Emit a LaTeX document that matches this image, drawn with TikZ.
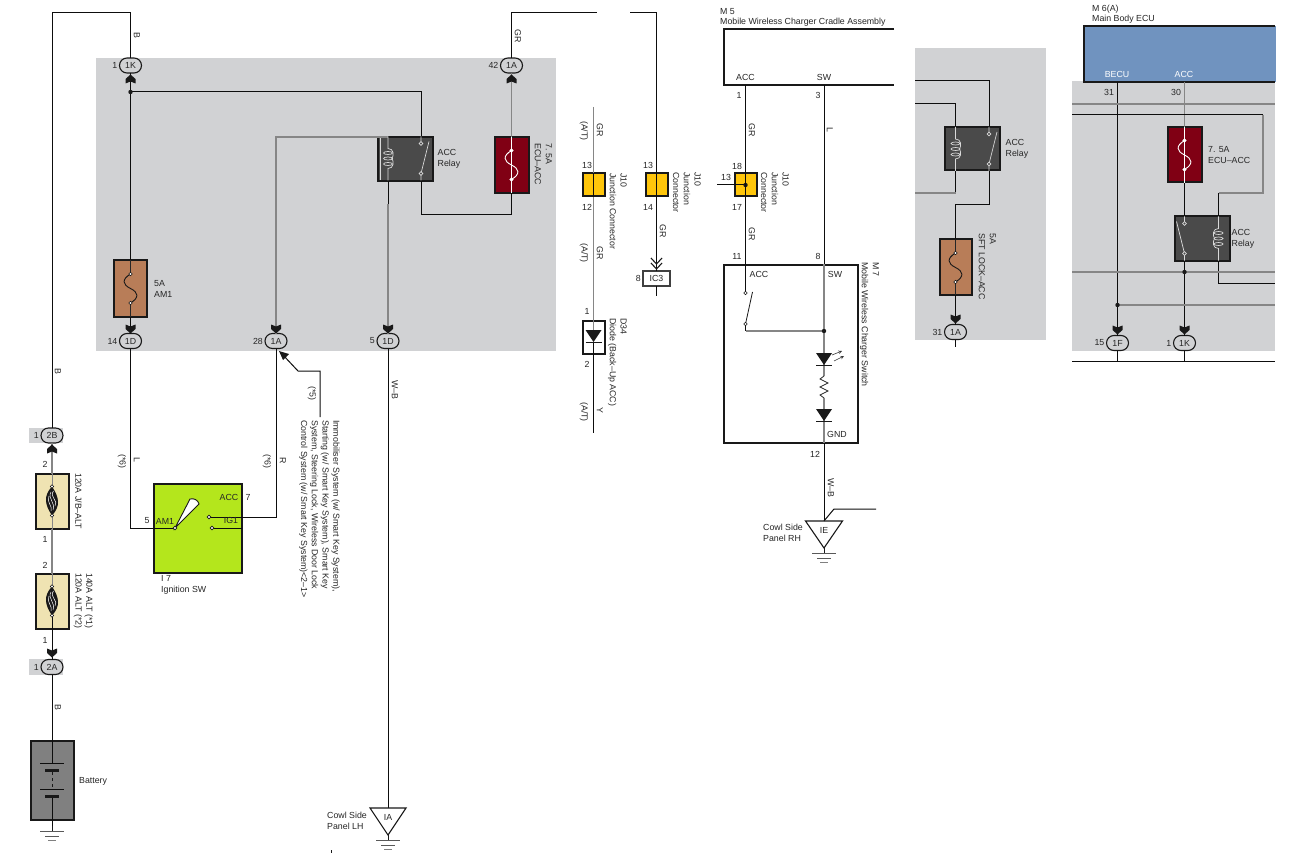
\documentclass[tikz,border=0pt]{standalone}
\usepackage{fontspec}
\setmainfont{Liberation Sans}
\usetikzlibrary{shapes.misc,positioning}
\definecolor{panelgray}{HTML}{D1D2D4}
\definecolor{wiregray}{HTML}{868686}
\definecolor{fusetan}{HTML}{EFE3B2}
\definecolor{fusebrown}{HTML}{B87D58}
\definecolor{fusered}{HTML}{800014}
\definecolor{relaygray}{HTML}{4A4A4A}
\definecolor{ecublue}{HTML}{7093BF}
\definecolor{jyellow}{HTML}{FFC60B}
\definecolor{swgreen}{HTML}{B4E61C}
\tikzset{
  lab/.style={font=\fontsize{8.8}{10.8}\selectfont, inner sep=0pt, text=black!85},
  tag/.style={lab, anchor=west, align=left},
  rotlab/.style={lab, rotate=-90, anchor=west},
  rottag/.style={lab, rotate=-90, anchor=north west, align=left},
  wirek/.style={draw=black!95, line width=1pt},
  wireg/.style={draw=wiregray, line width=1.1pt},
  panel/.style={fill=panelgray},
  conn/.style={rounded rectangle, draw=black!90, line width=1.1pt, minimum width=22pt, minimum height=15pt, inner sep=0pt, outer sep=0pt, fill=panelgray, lab},
  boxbase/.style={rectangle, draw=black!90, line width=2pt, inner sep=0pt, outer sep=0pt, anchor=north west},
  pics/plug/.style={code={\fill[black!90] (0,-4.5) -- (5,0) -- (5,4.5) -- (0,2.5) -- (-5,4.5) -- (-5,0) -- cycle;}},
  pics/fuselink/.style={code={
    \draw[#1, line width=0.9pt] (0,-14.5) .. controls (-9,-9) and (-8,-4) .. (0,0) .. controls (8,4) and (9,9) .. (0,14.5);
    \draw[#1, fill=white, line width=0.5pt] (0,-14.5) circle (1.7) (0,14.5) circle (1.7);}},
  pics/bigfuse/.style={code={
    \fill[black!90] (0,-14.5) .. controls (-9,-5) and (-7,4) .. (0,14.5) .. controls (9,5) and (7,-4) .. (0,-14.5);
    \draw[white, line width=0.5pt] (-1,-9) .. controls (-5,-3) and (4,2) .. (1,9) (1.5,-10) .. controls (-3,-4) and (7,0) .. (3,5) (-3,-5) .. controls (-6,1) and (1,5) .. (-1,10);
    \draw[black!90, fill=white, line width=0.5pt] (0,-14.5) circle (1.7) (0,14.5) circle (1.7);}},
  pics/coilsym/.style={code={
    \draw[white!85!black, line width=0.7pt] (0,-22) -- (0,-10) .. controls (6,-10) and (6,-3) .. (4,0) .. controls (6,3) and (6,10) .. (0,10) -- (0,22);
    \draw[white!85!black, line width=0.7pt] (0,-5.5) ellipse (4.5 and 1.5) (0,0) ellipse (4.5 and 1.5) (0,5.5) ellipse (4.5 and 1.5);}},
  pics/contactsym/.style={code={
    \draw[white!85!black, line width=0.7pt] (0,-22) -- (0,-15) (0,15) -- (0,22) (0,15) -- (8,-17);
    \draw[white!85!black, fill=relaygray, line width=0.7pt] (0,-15) circle (1.8) (0,15) circle (1.8);}},
  pics/groundsym/.style={code={
    \draw[black!90, line width=0.9pt] (0,0) -- (0,5);
    \draw[black!65, line width=0.9pt] (-12,5) -- (12,5) (-7,10) -- (7,10);
    \draw[black!50, line width=0.9pt] (-4,14) -- (4,14);}},
  pics/diodesym/.style={code={
    \fill[black!90] (-8,-6) -- (8,-6) -- (0,6) -- cycle;
    \draw[black!90, line width=0.8pt] (-8,6) -- (8,6);}}
}
\begin{document}
\begin{tikzpicture}[x=1pt, y=-1pt]
  \useasboundingbox (0,0) rectangle (1301,853);
  \fill[white] (0,0) rectangle (1301,853);
  \fill[panel] (96,58) rectangle (556,351);
  \fill[panel] (915,48) rectangle (1046,340);
  \fill[panel] (1072,81) rectangle (1275,351);
  \fill[panel] (29,428) rectangle (63,443);
  \fill[panel] (29,659) rectangle (63,675);

  \node[boxbase, fill=fusebrown, minimum width=33pt, minimum height=57pt] (fuseAM) at (114,260) {};
  \node[boxbase, fill=fusered, minimum width=34pt, minimum height=56pt] (fuseECU) at (494.5,137) {};
  \node[boxbase, fill=relaygray, minimum width=55pt, minimum height=44pt] (relayA) at (377.5,137) {};
  \node[boxbase, fill=fusetan, minimum width=33pt, minimum height=55pt] (fuseJB) at (35.5,473.5) {};
  \node[boxbase, fill=fusetan, minimum width=33pt, minimum height=55pt] (fuseALT) at (35.5,573.5) {};
  \node[boxbase, fill=swgreen, minimum width=88pt, minimum height=89pt] (ignSw) at (153.5,483.5) {};
  \node[boxbase, fill=black!50, minimum width=43pt, minimum height=79pt] (battery) at (30.5,740.5) {};
  \node[boxbase, fill=jyellow, minimum width=22pt, minimum height=23pt] (jctA) at (582.5,173.5) {};
  \node[boxbase, fill=jyellow, minimum width=22pt, minimum height=23pt] (jctB) at (645.5,173.5) {};
  \node[boxbase, fill=jyellow, minimum width=22pt, minimum height=23pt] (jctC) at (734.5,173.5) {};
  \node[boxbase, fill=white, minimum width=22pt, minimum height=33pt] (diodeBox) at (582.5,320.5) {};
  \node[boxbase, draw=black!75, line width=1.3pt, fill=white, minimum width=27pt, minimum height=15pt, lab] (ic3) at (643,271) {IC3};
  \node[boxbase, fill=white, minimum width=134pt, minimum height=178pt] (chgSw) at (723.5,264.5) {};
  \node[boxbase, fill=relaygray, minimum width=55pt, minimum height=43pt] (relayB) at (944.5,127.5) {};
  \node[boxbase, fill=fusebrown, minimum width=32pt, minimum height=55pt] (fuseSFT) at (939.5,239.5) {};
  \node[boxbase, fill=fusered, minimum width=34pt, minimum height=55pt] (fuseECUb) at (1167.5,127.5) {};
  \node[boxbase, fill=relaygray, minimum width=55pt, minimum height=44pt] (relayC) at (1174.5,216.5) {};

  \node[conn] (c1K) at (130.5,65.5) {1K};
  \node[conn] (c1A) at (511.5,65.5) {1A};
  \node[conn] (c1D) at (130.5,341) {1D};
  \node[conn] (c1Ab) at (276,341) {1A};
  \node[conn] (c1Dc) at (388,341) {1D};
  \node[conn] (c2B) at (52,435.5) {2B};
  \node[conn] (c2A) at (52,667) {2A};
  \node[conn] (c1Ad) at (955.5,332) {1A};
  \node[conn] (c1F) at (1117.5,343) {1F};
  \node[conn] (c1Ke) at (1184.5,343) {1K};

  \coordinate (topB) at (130.5,13);
  \coordinate (jctK) at (130.5,92);
  \coordinate (am1Pt) at (175,528);
  \coordinate (accPt) at (209,517);
  \coordinate (ig1Pt) at (212,528);
  \coordinate (relayAc) at (388,158.5);
  \coordinate (relayAs) at (421,158.5);
  \coordinate (topGR) at (597,13);
  \coordinate (topGRb) at (656,13);
  \coordinate (ieTop) at (824,521);
  \coordinate (iaTop) at (388,808);

  \draw[wirek] (c2B.north) |- (topB) -- (c1K.north);
  \draw[wirek] (c1K.south) -- (jctK) -- (fuseAM.north);
  \draw[wirek] (fuseAM.south) -- (c1D.north);
  \draw[wirek] (c1D.south) |- (am1Pt);
  \draw[wirek] (jctK) -| (relayAs |- relayA.north);
  \draw[wirek] (relayAs |- relayA.south) -- (421,215) -| (fuseECU.south);
  \draw[wireg] (fuseECU.north) -- (c1A.south);
  \draw[wirek] (c1A.north) |- (topGR);
  \draw[wirek] (630,13) -- (656.5,13) -- (jctB.north);
  \draw[wirek] (jctB.south) -- (ic3.north);
  \draw[wirek] (ic3.south) -- (656.5,296);
  \draw[wireg] (c1Ab.north) |- (relayAc |- relayA.north);
  \draw[wirek] (relayAc |- relayA.south) -- (388,204);
  \draw[wireg] (388,204) -- (c1Dc.north);
  \draw[wirek] (c1Dc.south) -- (iaTop);
  \draw[wirek] (c1Ab.south) |- (accPt -| 276,506) -| (accPt);
  \draw[wirek] (ig1Pt) -- (ignSw.east |- ig1Pt);
  \draw[wirek] (320,417) -- (320,371) -- (298,371) -- (283,355);
  \fill[black!90] (279,351) -- (289,354) -- (283,360) -- cycle;
  \draw[wireg] (c2B.south) -- (fuseJB.north);
  \draw[wireg] (fuseJB.south) -- (fuseALT.north);
  \draw[wirek] (fuseALT.south) -- (c2A.north);
  \draw[wirek] (c2A.south) -- (battery.north);

  \draw[wireg] (593.5,107) -- (jctA.north);
  \draw[wireg] (jctA.south) -- (diodeBox.north);
  \draw[wireg] (diodeBox.north) -- (593.5,331);
  \draw[wirek] (593.5,342) -- (diodeBox.south) -- (593.5,433);

  \draw[line width=2pt, black!90] (894,29) -- (723.5,29) -- (723.5,85) -- (894,85);
  \coordinate (m5acc) at (745.5,85);
  \coordinate (m5sw) at (824,85);
  \draw[wirek] (m5acc) -- (jctC.north);
  \draw[wirek] (jctC.south) -- (745.5,293);
  \draw[wirek] (m5sw) -- (824,264);
  \draw[wirek] (717,185) -- (745.5,185);
  \fill[black!90] (745.5,185) circle (2.2);
  \draw[wirek] (745.5,324) -- (745.5,331);
  \draw[wireg] (745.5,331) -- (824,331);
  \draw[wireg] (824,264) -- (824,376);
  \draw[black!85, line width=0.8pt] (824,376) -- (820,379) -- (828,383) -- (820,387) -- (828,391) -- (820,395) -- (824,398);
  \draw[wireg] (824,398) -- (824,443);
  \fill[black!90] (824,331) circle (2.2);
  \pic at (824,359) {diodesym};
  \pic at (824,415) {diodesym};
  \draw[black!80, line width=0.6pt, ->, >=stealth] (832,355) -- (842,351);
  \draw[black!80, line width=0.6pt, ->, >=stealth] (834,361) -- (844,356);
  \draw[wirek] (824,443) -- (ieTop);
  \draw[wirek] (ieTop) -- (834,509) -- (876,509);
  \draw[black!90, line width=1.1pt] (805.5,521) -- (842.5,521) -- (824,548) -- cycle;
  \pic at (824,548) {groundsym};
  \draw[black!90, line width=1.1pt] (370,808) -- (406,808) -- (388,835) -- cycle;
  \pic at (388,835) {groundsym};
  \draw[black!90, line width=0.9pt] (331,850) -- (331,853);

  \draw[wirek] (915,81) -| (989,127);
  \draw[wirek] (989,171) -- (989,205) -| (fuseSFT.north);
  \draw[wirek] (fuseSFT.south) -- (c1Ad.north);
  \draw[wirek] (c1Ad.south) -- (955.5,347);
  \draw[wirek] (915,104) -| (955.5,127);
  \draw[wirek] (955.5,171) -- (955.5,193);
  \draw[wireg] (955.5,193) -- (915,193);

  \fill[ecublue] (1084,26) rectangle (1276,82);
  \draw[line width=2pt, black!90] (1275,26.5) -- (1084,26.5) -- (1084,82) -- (1275,82);
  \coordinate (ecuB) at (1117.5,82);
  \coordinate (ecuA) at (1184.5,82);
  \draw[wirek] (ecuB) -- (c1F.north);
  \draw[wireg] (ecuA) -- (fuseECUb.north);
  \draw[wirek] (fuseECUb.south) -- (1184.5,216);
  \draw[wirek] (1184.5,261) -- (c1Ke.north);
  \draw[wireg] (1072,104) -- (1275,104);
  \draw[wirek] (1072,115) -- (1263,115);
  \draw[wireg] (1263,115) -- (1263,193) -- (1218.5,193);
  \draw[wirek] (1218.5,193) -- (1218.5,216);
  \draw[wirek] (1218.5,261) |- (1275,283);
  \draw[wireg] (1072,272) -- (1275,272);
  \draw[wireg] (1117.5,305) -- (1275,305);
  \fill[black!90] (1184.5,272) circle (2.2) (1117.5,305) circle (2.2);
  \draw[wirek] (1072,361) -- (1275,361);
  \draw[wirek] (c1F.south) -- (c1F.south |- 0,361);
  \draw[wirek] (c1Ke.south) -- (c1Ke.south |- 0,361);

  \fill[black!90] (jctK) circle (2.2);
  \pic at (130.5,79) {plug};
  \pic at (511.5,79) {plug};
  \pic[rotate=180] at (130.5,329) {plug};
  \pic[rotate=180] at (276,329) {plug};
  \pic[rotate=180] at (388,329) {plug};
  \pic at (52,449) {plug};
  \pic[rotate=180] at (52,653) {plug};
  \pic[rotate=180] at (955.5,319) {plug};
  \pic[rotate=180] at (1117.5,330) {plug};
  \pic[rotate=180] at (1184.5,330) {plug};
  \draw[black!90, line width=1.1pt] (651,258) -- (656.5,264) -- (662,258) (651,263) -- (656.5,269) -- (662,263);

  \draw[black!85, line width=0.8pt] (130.5,260) -- (130.5,274) (130.5,303) -- (130.5,317);
  \pic at (130.5,288.5) {fuselink=black!90};
  \draw[white, line width=0.7pt] (511.5,137) -- (511.5,193);
  \pic at (511.5,165) {fuselink=white};
  \draw[black!85, line width=0.8pt] (955.5,240) -- (955.5,253) (955.5,282) -- (955.5,295);
  \pic at (955.5,267.5) {fuselink=black!90};
  \draw[white, line width=0.7pt] (1184.5,127) -- (1184.5,183);
  \pic at (1184.5,155) {fuselink=white};
  \draw[wireg, line width=0.9pt] (52,473) -- (52,529);
  \pic at (52,501) {bigfuse};
  \draw[wireg, line width=0.9pt] (52,573) -- (52,585);
  \draw[wirek] (52,615) -- (52,629);
  \pic at (52,601) {bigfuse};

  \draw[white!85!black, line width=0.7pt] (380,138) -- (380,180);
  \pic at (388,158.5) {coilsym};
  \pic at (421,158.5) {contactsym};
  \pic at (955.5,149) {coilsym};
  \pic at (989,149) {contactsym};
  \pic[xscale=-1] at (1184.5,238.5) {contactsym};
  \pic[xscale=-1] at (1218.5,238.5) {coilsym};

  \draw[black!90, line width=0.9pt, fill=white] (am1Pt) -- (190,499) .. controls (194,498) and (198,500) .. (199,504) -- cycle;
  \draw[black!90, fill=white, line width=0.7pt] (am1Pt) circle (1.8) (accPt) circle (1.8) (ig1Pt) circle (1.8);

  \draw[black!90, line width=0.8pt] (745.5,324) -- (752.5,292);
  \draw[black!90, fill=white, line width=0.6pt] (745.5,293) circle (1.7) (745.5,324) circle (1.7);

  \draw[wirek] (battery.north) -- (52,763);
  \draw[wirek] (40,763) -- (64,763);
  \fill[black!90] (45,768.5) rectangle (59,771.5);
  \draw[black!90, line width=0.9pt, dash pattern=on 3pt off 3pt] (52,772) -- (52,789);
  \draw[wirek] (40,789) -- (64,789);
  \fill[black!90] (45,794.5) rectangle (59,797.5);
  \draw[wirek] (52,798) -- (52,826);
  \pic at (52,826) {groundsym};

  \pic at (593.5,336) {diodesym};

  \draw[wirek] (593.5,173) -- (593.5,197);
  \draw[wirek] (656.5,173) -- (656.5,197);
  \draw[wirek] (745.5,173) -- (745.5,197);

  \node[lab, left=2pt of c1K] (pinA) {1};
  \node[lab, left=2pt of c1A] (pinB) {42};
  \node[lab, left=2pt of c1D] (pinC) {14};
  \node[lab, left=2pt of c1Ab] (pinD) {28};
  \node[lab, left=2pt of c1Dc] (pinE) {5};
  \node[lab, left=2pt of c2B] (pinF) {1};
  \node[lab, left=2pt of c2A] (pinG) {1};
  \node[lab, left=2pt of c1Ad] (pinH) {31};
  \node[lab, left=2pt of c1F] (pinI) {15};
  \node[lab, left=2pt of c1Ke] (pinJ) {1};
  \node[lab, left=2pt of ic3] (pinK) {8};

  \node[lab] (n1) at (45,464) {2};
  \node[lab] (n2) at (45,539) {1};
  \node[lab] (n3) at (45,565) {2};
  \node[lab] (n4) at (45,640) {1};
  \node[lab] (n5) at (147,521) {5};
  \node[lab] (n6) at (248,497) {7};
  \node[lab] (n7) at (587,165) {13};
  \node[lab] (n8) at (587,207) {12};
  \node[lab] (n9) at (587,311) {1};
  \node[lab] (n10) at (587,364) {2};
  \node[lab] (n11) at (648,165) {13};
  \node[lab] (n12) at (648,207) {14};
  \node[lab] (n13) at (739,95) {1};
  \node[lab] (n14) at (818,95) {3};
  \node[lab] (n15) at (737,166) {18};
  \node[lab] (n16) at (726,177) {13};
  \node[lab] (n17) at (737,207) {17};
  \node[lab] (n18) at (737,256) {11};
  \node[lab] (n19) at (818,256) {8};
  \node[lab] (n20) at (815,454) {12};
  \node[lab] (n21) at (1109,92) {31};
  \node[lab] (n22) at (1176,92) {30};

  \node[lab] (accA) at (165,521) {AM1};
  \node[lab] (accB) at (229,497) {ACC};
  \node[lab] (accC) at (231,520) {IG1};
  \node[tag] (ignLab) at (161,585) {I 7\\Ignition SW};
  \node[tag] (am1Lab) at (154,289) {5A\\AM1};
  \node[tag, right=5pt of relayA] (relayLabA) {ACC\\Relay};
  \node[tag, right=6pt of relayB] (relayLabB) {ACC\\Relay};
  \node[tag, right=2pt of relayC] (relayLabC) {ACC\\Relay};
  \node[tag] (ecuLab) at (1208,155) {7. 5A\\ECU–ACC};
  \node[tag] (batLab) at (79,781) {Battery};
  \node[tag] (ialab) at (327,821) {Cowl Side\\Panel LH};
  \node[tag] (ielab) at (763,533) {Cowl Side\\Panel RH};
  \node[lab] (iaTxt) at (388,817) {IA};
  \node[lab] (ieTxt) at (824,530) {IE};
  \node[tag, font=\fontsize{8.8}{10}\selectfont] (m5Lab) at (720,17) {M 5\\Mobile Wireless Charger Cradle Assembly};
  \node[tag, font=\fontsize{8.8}{10}\selectfont] (m6Lab) at (1092,14) {M 6(A)\\Main Body ECU};
  \node[lab] (acc5) at (745.5,77) {ACC};
  \node[lab] (sw5) at (824,77) {SW};
  \node[lab] (acc7) at (759,274) {ACC};
  \node[lab] (sw7) at (835,274) {SW};
  \node[lab] (gnd7) at (837,434) {GND};
  \node[lab, text=white] (becu) at (1117,74) {BECU};
  \node[lab, text=white] (accE) at (1184,74) {ACC};

  \node[rotlab] (wireA) at (137,32) {B};
  \node[rotlab] (wireB) at (58,368) {B};
  \node[rotlab] (wireC) at (58,704) {B};
  \node[rotlab] (wireD) at (518,29) {GR};
  \node[rotlab] (wireE) at (137,457) {L};
  \node[rotlab] (wireF) at (122,454) {(*6)};
  \node[rotlab] (wireG) at (283,457) {R};
  \node[rotlab] (wireH) at (267,454) {(*6)};
  \node[rotlab] (wireI) at (312,386) {(*5)};
  \node[rotlab] (wireJ) at (395,380) {W–B};
  \node[rotlab] (wireK) at (600,123) {GR};
  \node[rotlab] (wireL) at (584,121) {(A/T)};
  \node[rotlab] (wireM) at (600,246) {GR};
  \node[rotlab] (wireN) at (584,243) {(A/T)};
  \node[rotlab] (wireO) at (584,402) {(A/T)};
  \node[rotlab] (wireP) at (600,407) {Y};
  \node[rotlab] (wireQ) at (663,224) {GR};
  \node[rotlab] (wireR) at (752,123) {GR};
  \node[rotlab] (wireS) at (830,127) {L};
  \node[rotlab] (wireT) at (752,227) {GR};
  \node[rotlab] (wireU) at (831,478) {W–B};

  \node[rottag] (ecuRot) at (552,143) {7. 5A\\ECU–ACC};
  \node[rottag] (jLabA) at (627,173) {J10\\Junction Connector};
  \node[rottag] (dLab) at (627,318) {D34\\Diode (Back–Up ACC)};
  \node[rottag] (jLabB) at (701,172) {J10\\Junction\\Connector};
  \node[rottag] (jLabC) at (789,172) {J10\\Junction\\Connector};
  \node[rottag] (m7Lab) at (879,262) {M 7\\Mobile Wireless Charger Switch};
  \node[rottag] (sftLab) at (996,233) {5A\\SFT LOCK–ACC};
  \node[rottag] (jbLab) at (82,473) {120A J/B–ALT};
  \node[rottag] (altLab) at (93,573) {140A ALT (*1)\\120A ALT (*2)};
  \node[rottag] (notesLab) at (340,420) {Immobiliser System (w/ Smart Key System),\\Starting (w/ Smart Key System),  Smart Key\\System,  Steering Lock,  Wireless Door Lock\\Control System (w/ Smart Key System)<2–1>};
\end{tikzpicture}
\end{document}
